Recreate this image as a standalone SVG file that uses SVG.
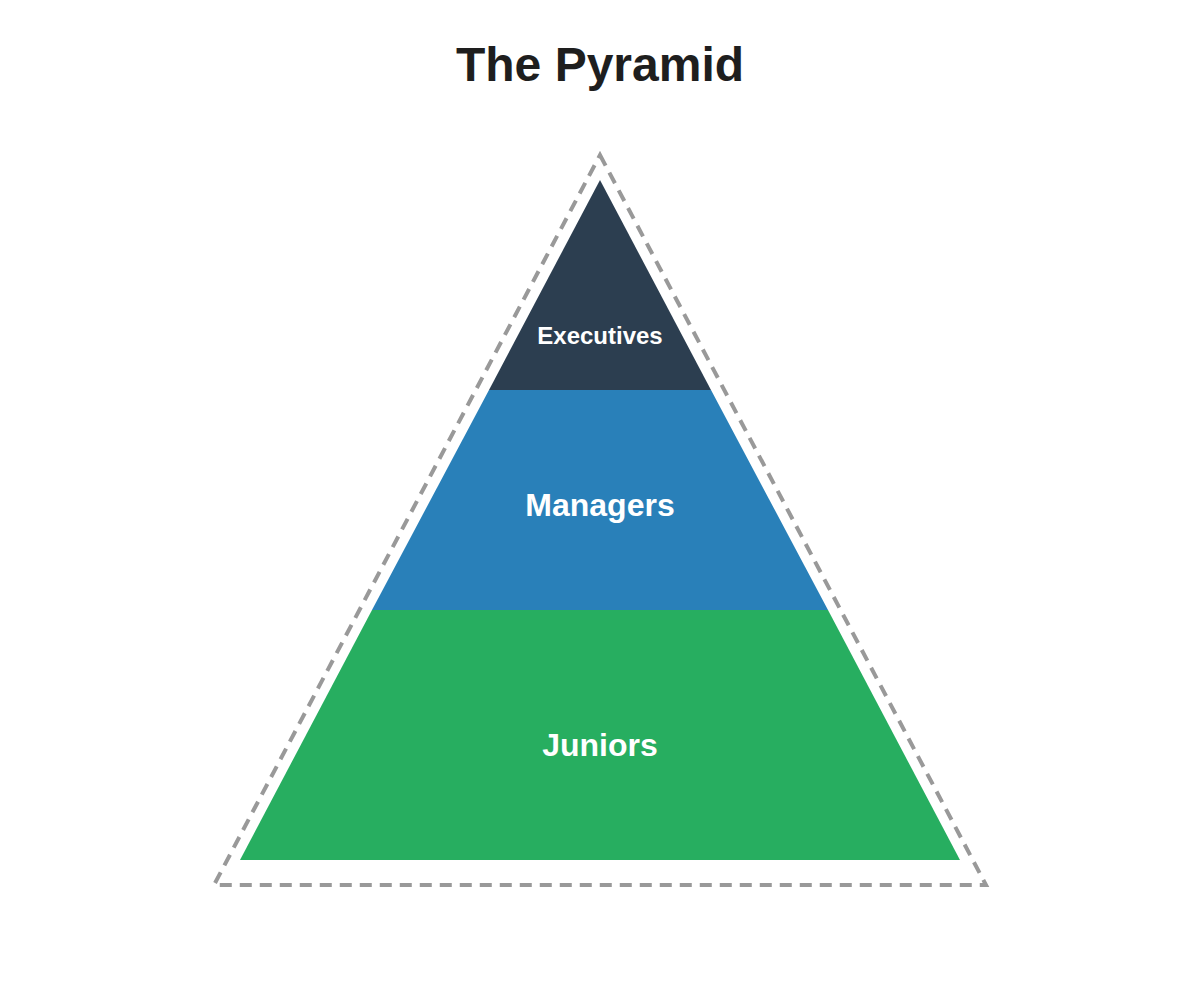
<svg xmlns="http://www.w3.org/2000/svg" width="1200" height="1000" viewBox="0 0 1200 1000">
<style>
.t{font-family:"Liberation Sans",Arial,sans-serif;font-weight:bold;text-anchor:middle;fill:#fff}
</style>
<rect width="1200" height="1000" fill="#fff"/>
<text x="600" y="81" class="t" style="fill:#1e1e1e;font-size:48px">The Pyramid</text>
<g id="outline"><polygon points="600,155 986,885 214,885" fill="none" stroke="#999" stroke-width="4" stroke-dasharray="12,8"/></g>
<g id="juniors"><polygon points="372,610 828,610 960,860 240,860" fill="#27ae60"/><text x="600" y="756" class="t" style="font-size:32px">Juniors</text></g>
<g id="managers"><polygon points="489,390 711,390 828,610 372,610" fill="#2980b9"/><text x="600" y="516" class="t" style="font-size:32px">Managers</text></g>
<g id="executives"><polygon points="600,180 711,390 489,390" fill="#2c3e50"/><text x="600" y="344" class="t" style="font-size:24px">Executives</text></g>
<g id="connectors"/>
</svg>
